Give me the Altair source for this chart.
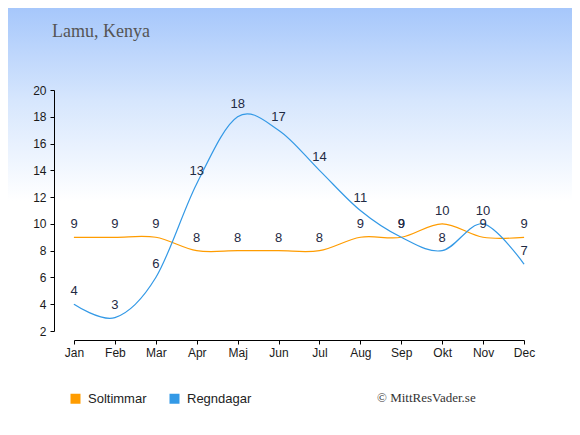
import altair as alt
import pandas as pd

months = ["Jan", "Feb", "Mar", "Apr", "Maj", "Jun", "Jul", "Aug", "Sep", "Okt", "Nov", "Dec"]
sun_hours = [9, 9, 9, 8, 8, 8, 8, 9, 9, 10, 9, 9]
rain_days = [4, 3, 6, 13, 18, 17, 14, 11, 9, 8, 10, 7]
series_names = ["Soltimmar", "Regndagar"]
series_colors = ["#ff9c00", "#3399e6"]
y_ticks = [2, 4, 6, 8, 10, 12, 14, 16, 18, 20]

rows = []
for m, s in zip(months, sun_hours):
    rows.append({"month": m, "value": s, "series": "Soltimmar"})
for m, r in zip(months, rain_days):
    rows.append({"month": m, "value": r, "series": "Regndagar"})
df = pd.DataFrame(rows)

W, H = 450, 241
PL, PT = 66, 82
TOTW, TOTH = 564, 419

one = pd.DataFrame({"a": [0]})

bg = alt.Chart(one).mark_rect(
    color=alt.Gradient(
        gradient="linear",
        stops=[
            alt.GradientStop(color="#a6c7fb", offset=0),
            alt.GradientStop(color="#d6e6fd", offset=0.22),
            alt.GradientStop(color="#ffffff", offset=0.46),
            alt.GradientStop(color="#ffffff", offset=1),
        ],
        x1=0, x2=0, y1=0, y2=1,
    )
).encode(
    x=alt.value(-PL), x2=alt.value(TOTW - PL),
    y=alt.value(-PT), y2=alt.value(TOTH - PT),
)

xenc = alt.X("month:N", sort=months,
             scale=alt.Scale(type="point", padding=0, domain=months),
             axis=alt.Axis(title=None, labelAngle=0, offset=9, domainColor="#000",
                           tickColor="#000", tickSize=4, labelFontSize=12,
                           labelColor="#1a1a1a", labelFont="Liberation Sans",
                           labelPadding=3, grid=False, zindex=1, labelOverlap=False))
yenc = alt.Y("value:Q", scale=alt.Scale(domain=[2, 20], nice=False, zero=False),
             axis=alt.Axis(title=None, values=y_ticks, offset=20, domainColor="#000",
                           tickColor="#000", tickSize=4, labelFontSize=12,
                           labelColor="#1a1a1a", labelFont="Liberation Sans",
                           labelPadding=4, grid=False, zindex=1, labelOverlap=False))
colenc = alt.Color("series:N", sort=series_names,
                   scale=alt.Scale(domain=series_names, range=series_colors),
                   legend=alt.Legend(title=None, orient="none", direction="horizontal",
                                     legendX=-5, legendY=302, padding=0,
                                     symbolType="square", symbolSize=100,
                                     symbolStrokeWidth=0, symbolOpacity=1,
                                     labelFontSize=13, labelFont="Liberation Sans",
                                     labelColor="#222", labelOffset=6,
                                     columnPadding=21))

legend_pts = alt.Chart(df).mark_square(size=0.3, filled=True).encode(
    x=xenc, y=yenc, color=colenc
)

lines = alt.Chart(df).mark_line(interpolate="cardinal", strokeWidth=1.2).encode(
    x=xenc, y=yenc, color=colenc
)

labels = alt.Chart(df).mark_text(
    dy=-13, fontSize=13, font="Liberation Sans", color="#1f2a44", baseline="middle"
).encode(
    x=xenc, y=yenc, text="value:Q"
)

title = alt.Chart(one).mark_text(
    text="Lamu, Kenya", font="Liberation Serif", fontSize=18, color="#555555",
    align="left", baseline="alphabetic"
).encode(x=alt.value(-22), y=alt.value(-53))

credit = alt.Chart(one).mark_text(
    text="© MittResVader.se", font="Liberation Serif", fontSize=13, color="#333333",
    align="left", baseline="middle"
).encode(x=alt.value(303), y=alt.value(308))

chart = alt.layer(bg, legend_pts, lines, labels, title, credit).properties(
    width=W, height=H,
    autosize=alt.AutoSizeParams(type="none"),
    padding={"left": PL, "top": PT, "right": TOTW - PL - W, "bottom": TOTH - PT - H},
).configure_view(stroke=None).configure(background="white")

chart.save("out.html", embed_options={"renderer": "svg", "actions": False})
